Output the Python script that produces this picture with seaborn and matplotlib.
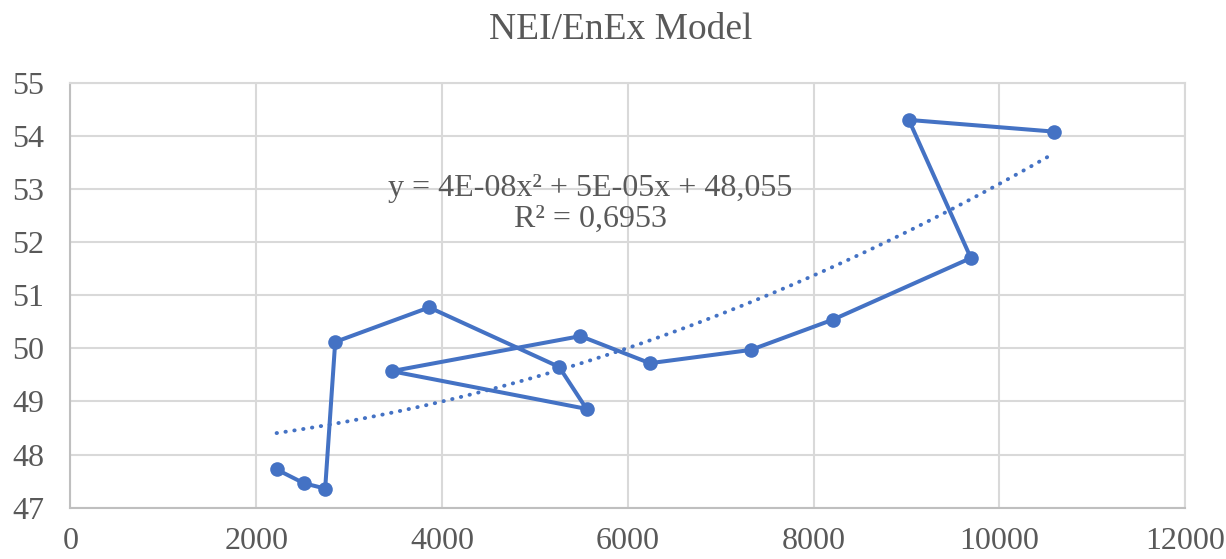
import matplotlib
matplotlib.use("Agg")
import matplotlib.pyplot as plt
import seaborn as sns
import pandas as pd

# values, in drawing order
nei = [2219, 2513, 2742, 2850, 3862, 5261, 5556, 3457, 5491,
       6238, 7325, 8209, 9694, 9026, 10586]
enex = [47.72, 47.46, 47.36, 50.12, 50.77, 49.65, 48.86, 49.57, 50.23,
        49.72, 49.97, 50.54, 51.70, 54.30, 54.08]
x_ticks = [0, 2000, 4000, 6000, 8000, 10000, 12000]
y_ticks = [47, 48, 49, 50, 51, 52, 53, 54, 55]
trend_label = "y = 4E-08x\u00b2 + 5E-05x + 48,055\nR\u00b2 = 0,6953"

df = pd.DataFrame({"NEI": nei, "EnEx": enex})

sns.set_theme(style="white")
plt.rcParams["font.family"] = ["Liberation Serif", "DejaVu Serif"]

blue = "#4472C4"
grey_text = "#595959"
grid_col = "#d9d9d9"

fig = plt.figure(figsize=(12.26, 5.59), dpi=100)
ax = fig.add_axes([0.0575, 0.0918, 0.9091, 0.7602])

sns.lineplot(data=df, x="NEI", y="EnEx", sort=False, estimator=None,
             color=blue, linewidth=2.9, marker="o", markersize=10.5,
             markeredgewidth=0, ax=ax, zorder=3)

# polynomial (order 2) trend line, as in the source chart
sns.regplot(data=df, x="NEI", y="EnEx", order=2, scatter=False, ci=None,
            truncate=True, ax=ax,
            line_kws=dict(color=blue, linewidth=2.8, linestyle=(0, (0.1, 2.2)),
                          dash_capstyle="round", zorder=2))

ax.set_xlim(0, 12000)
ax.set_ylim(47, 55)
ax.set_xticks(x_ticks)
ax.set_yticks(y_ticks)
ax.set_xlabel("")
ax.set_ylabel("")
ax.grid(True, color=grid_col, linewidth=1.5, zorder=0)
ax.set_axisbelow(True)
for side in ["top", "right"]:
    ax.spines[side].set_color(grid_col)
    ax.spines[side].set_linewidth(1.5)
for side in ["left", "bottom"]:
    ax.spines[side].set_color("#bfbfbf")
    ax.spines[side].set_linewidth(1.5)
ax.tick_params(axis="both", length=0, labelsize=23, labelcolor=grey_text)
ax.tick_params(axis="x", pad=14)
ax.tick_params(axis="y", pad=19)

ax.text(5600, 52.72, trend_label, ha="center", va="center", fontsize=23,
        color=grey_text, linespacing=1.1)
fig.text(0.506, 0.946, "NEI/EnEx Model", ha="center", va="center",
         fontsize=27, color=grey_text)

fig.savefig("out.png", dpi=100)
plt.close(fig)
